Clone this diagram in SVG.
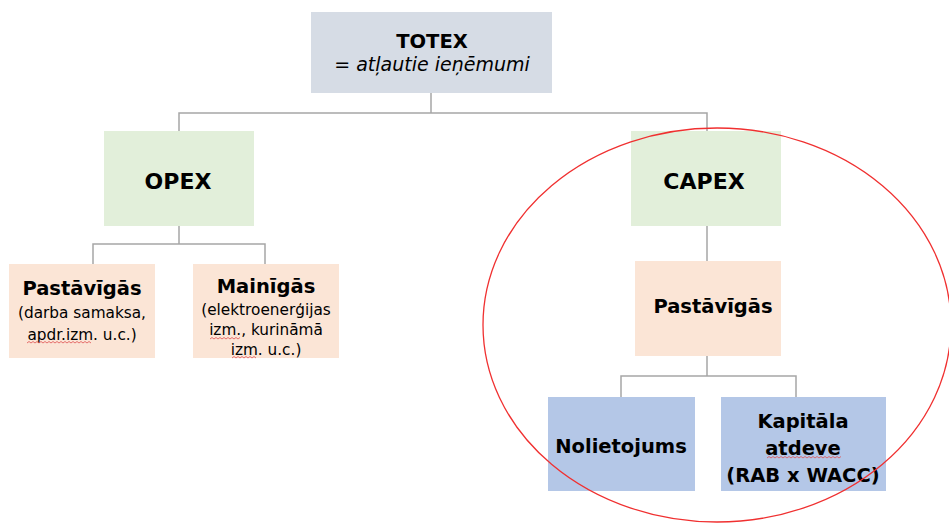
<svg xmlns="http://www.w3.org/2000/svg" width="949" height="524" viewBox="0 0 949 524">
<style>
text{font-family:"DejaVu Sans","Liberation Sans",sans-serif;fill:#000;text-anchor:middle}
.b{font-weight:bold}
.conn{fill:none;stroke:#a6a6a6;stroke-width:1.5}
.sq{fill:none;stroke:#e05050;stroke-width:0.8}
</style>
<rect width="949" height="524" fill="#fff"/>
<g id="connectors">
<path class="conn" d="M431,93 V113 M179,131 V113 H707 V131"/>
<path class="conn" d="M179,226 V244 M93,264 V244 H265 V264"/>
<path class="conn" d="M707,226 V261"/>
<path class="conn" d="M707,356 V376 M621,397 V376 H796 V397"/>
</g>
<g id="totex">
<rect x="311" y="12" width="241" height="81" fill="#d6dce5"/>
<text class="b" x="432" y="48" font-size="19.5">TOTEX</text>
<text x="432" y="71" font-size="19" font-style="italic">= atļautie ieņēmumi</text>
</g>
<g id="opex">
<rect x="104" y="131" width="150" height="95" fill="#e2efda"/>
<text class="b" x="178" y="189" font-size="22">OPEX</text>
</g>
<g id="capex">
<rect x="631" y="131" width="150" height="95" fill="#e2efda"/>
<text class="b" x="704" y="189" font-size="22">CAPEX</text>
</g>
<g id="opex-fixed">
<rect x="9" y="264" width="146" height="94" fill="#fbe5d6"/>
<text class="b" x="82" y="295" font-size="19.5">Pastāvīgās</text>
<text x="82" y="318" font-size="15.3">(darba samaksa,</text>
<text x="82" y="340" font-size="15.3">apdr.izm. u.c.)</text>
<path class="sq" d="M27,343 l2,-1.5 l2,1.5 l2,-1.5 l2,1.5 l2,-1.5 l2,1.5 l2,-1.5 l2,1.5 l2,-1.5 l2,1.5 l2,-1.5 l2,1.5 l2,-1.5 l2,1.5 l2,-1.5 l2,1.5 l2,-1.5 l2,1.5 l2,-1.5 l2,1.5 l2,-1.5 l2,1.5 l2,-1.5 l2,1.5 l2,-1.5 l2,1.5 l2,-1.5 l2,1.5 l2,-1.5 l2,1.5 l2,-1.5 l2,1.5"/>
</g>
<g id="opex-variable">
<rect x="193" y="264" width="146" height="94" fill="#fbe5d6"/>
<text class="b" x="266" y="293" font-size="19.5">Mainīgās</text>
<text x="266" y="315" font-size="15.3">(elektroenerģijas</text>
<text x="266" y="335" font-size="15.3">izm., kurināmā</text>
<text x="266" y="355" font-size="15.3">izm. u.c.)</text>
<path class="sq" d="M210,339 l2,-1.5 l2,1.5 l2,-1.5 l2,1.5 l2,-1.5 l2,1.5 l2,-1.5 l2,1.5 l2,-1.5 l2,1.5 l2,-1.5 l2,1.5 l2,-1.5 l2,1.5 l2,-1.5"/>
<path class="sq" d="M232,358 l2,-1.5 l2,1.5 l2,-1.5 l2,1.5 l2,-1.5 l2,1.5 l2,-1.5 l2,1.5 l2,-1.5 l2,1.5 l2,-1.5 l2,1.5"/>
</g>
<g id="capex-fixed">
<rect x="635" y="261" width="146" height="95" fill="#fbe5d6"/>
<text class="b" x="713" y="313" font-size="19.5">Pastāvīgās</text>
</g>
<g id="depreciation">
<rect x="548" y="397" width="147" height="94" fill="#b4c7e7"/>
<text class="b" x="621" y="453" font-size="19.5">Nolietojums</text>
</g>
<g id="return">
<rect x="721" y="397" width="165" height="94" fill="#b4c7e7"/>
<text class="b" x="803" y="428" font-size="19.5">Kapitāla</text>
<text class="b" x="803" y="455" font-size="19.5">atdeve</text>
<text class="b" x="803" y="482" font-size="19.5">(RAB x WACC)</text>
<path class="sq" d="M767,458 l2,-1.5 l2,1.5 l2,-1.5 l2,1.5 l2,-1.5 l2,1.5 l2,-1.5 l2,1.5 l2,-1.5 l2,1.5 l2,-1.5 l2,1.5 l2,-1.5 l2,1.5 l2,-1.5 l2,1.5 l2,-1.5 l2,1.5 l2,-1.5 l2,1.5 l2,-1.5 l2,1.5 l2,-1.5 l2,1.5 l2,-1.5 l2,1.5 l2,-1.5 l2,1.5 l2,-1.5 l2,1.5 l2,-1.5 l2,1.5 l2,-1.5 l2,1.5 l2,-1.5 l2,1.5 l2,-1.5"/>
</g>
<ellipse id="highlight" cx="717" cy="325" rx="234" ry="197" fill="none" stroke="#f03030" stroke-width="1.3"/>
</svg>
